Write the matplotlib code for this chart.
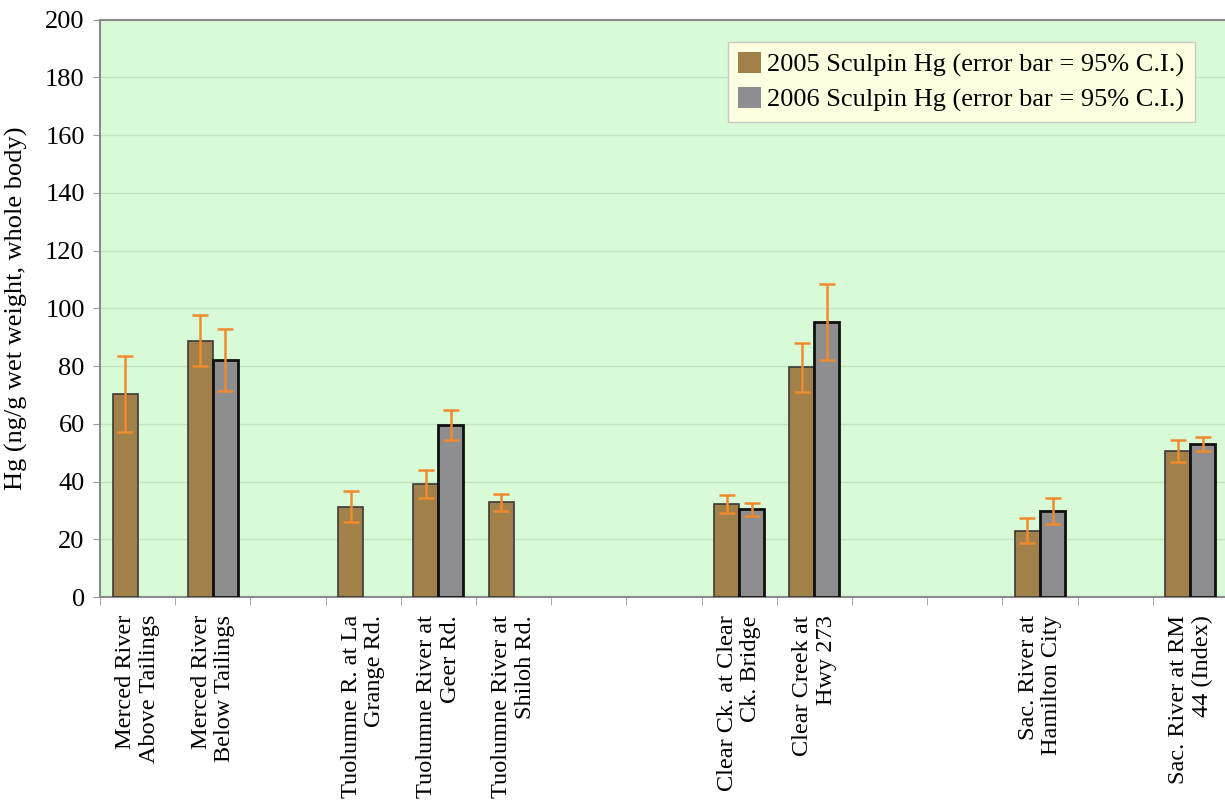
import matplotlib
matplotlib.use("Agg")
import matplotlib.pyplot as plt
import numpy as np

plt.rcParams['font.family'] = ['Liberation Serif', 'DejaVu Serif']

# sampling sites, blank entries are spacer slots between river groups
sites = ["Merced River\nAbove Tailings", "Merced River\nBelow Tailings", "",
         "Tuolumne R. at La\nGrange Rd.", "Tuolumne River at\nGeer Rd.",
         "Tuolumne River at\nShiloh Rd.", "", "",
         "Clear Ck. at Clear\nCk. Bridge", "Clear Creek at\nHwy 273", "", "",
         "Sac. River at\nHamilton City", "", "Sac. River at RM\n44 (Index)"]

# mean Hg, ng/g wet weight (nan = not sampled)
hg_2005 = [70.2, 88.8, np.nan, 31.3, 39.1, 32.8, np.nan, np.nan,
           32.2, 79.5, np.nan, np.nan, 22.9, np.nan, 50.6]
hg_2006 = [np.nan, 82.0, np.nan, np.nan, 59.5, np.nan, np.nan, np.nan,
           30.4, 95.2, np.nan, np.nan, 29.8, np.nan, 52.9]
# 95% confidence half-widths
ci_2005 = [13.1, 8.8, 0, 5.3, 4.8, 2.9, 0, 0, 3.0, 8.5, 0, 0, 4.3, 0, 3.9]
ci_2006 = [0, 10.7, 0, 0, 5.2, 0, 0, 0, 2.2, 13.2, 0, 0, 4.4, 0, 2.4]

fig = plt.figure(figsize=(12.25, 8.06), dpi=100)
ax = fig.add_axes([100 / 1225, 1 - 597 / 806, 1128 / 1225, (597 - 19.5) / 806])
ax.set_facecolor('#d8fad6')

x = np.arange(len(sites))
w = 1 / 3
err_kw = dict(ecolor='#f08a2c', elinewidth=1.8, capsize=6, capthick=1.8)

ax.bar(x - w / 2, hg_2005, w, color='#a2804a', edgecolor='#3a3a3a', linewidth=1.2,
       yerr=ci_2005, error_kw=err_kw, label='2005 Sculpin Hg (error bar = 95% C.I.)',
       zorder=3)
ax.bar(x + w / 2, hg_2006, w, color='#8e8e90', edgecolor='#111111', linewidth=2,
       yerr=ci_2006, error_kw=err_kw, label='2006 Sculpin Hg (error bar = 95% C.I.)',
       zorder=3)

ax.set_xlim(-0.5, len(sites) - 0.5)
ax.set_ylim(0, 200)
ax.set_yticks(range(0, 201, 20))
ax.yaxis.grid(True, color='#c4e2c4', linewidth=1, zorder=0)

ax.set_xticks(x)
ax.set_xticklabels(sites, rotation=90, ha='center', va='top', multialignment='right',
                   fontsize=17.5, linespacing=1.15)
ax.tick_params(axis='x', length=0, pad=13)
ax.set_xticks(np.arange(-0.5, len(sites), 1), minor=True)
ax.tick_params(axis='x', which='minor', length=6, color='#999999')
ax.tick_params(axis='y', labelsize=19, length=5, color='#999999', pad=6)

ax.set_ylabel('Hg (ng/g wet weight, whole body)', fontsize=19, labelpad=12)

for side in ['top', 'left', 'bottom', 'right']:
    ax.spines[side].set_color('#8a8a8a')
    ax.spines[side].set_linewidth(1.5)

leg = ax.legend(loc='upper right', bbox_to_anchor=((1195 - 100) / 1128, 0.9616),
                borderaxespad=0, fontsize=19, frameon=True, fancybox=False,
                handlelength=0.85, handleheight=0.85, handletextpad=0.25,
                borderpad=0.4, labelspacing=0.35)
leg.get_frame().set_facecolor('#fefee0')
leg.get_frame().set_edgecolor('#c8c8c8')
leg.get_frame().set_alpha(1)
for h in leg.legend_handles:
    h.set_edgecolor('none')

fig.savefig('out.png', dpi=100)
